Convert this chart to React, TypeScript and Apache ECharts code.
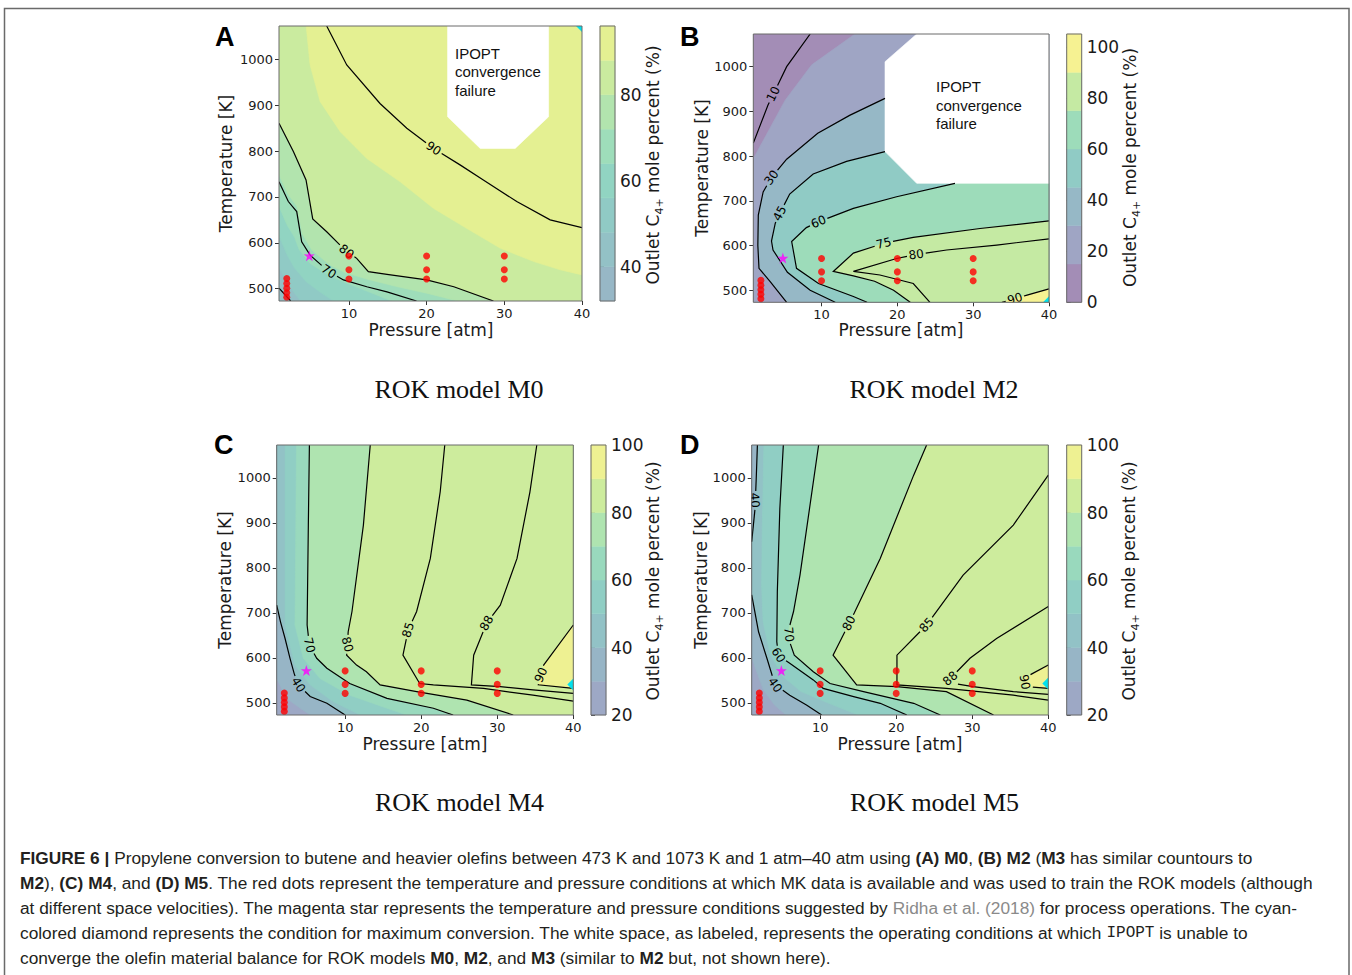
import React, { useEffect, useRef } from "react";
import * as echarts from "echarts";

// ---------------- shared axes / data ----------------
const pressureTicks = [10, 20, 30, 40];
const temperatureTicks = [500, 600, 700, 800, 900, 1000];
const pressureRange = [1, 40];
const temperatureRange = [473, 1073];

// MK training data (red dots) and suggested operating point (magenta star)
const mkColumnP = 2;
const mkColumnT = [481, 491, 501, 511, 522];
const mkGridP = [10, 20, 30];
const mkGridT = [521, 541, 571];
const suggestedPoint = [4.9, 572];

// ---------------- Panel A : ROK model M0 ----------------
const aLine90 = [[7.14, 1073], [9.72, 988], [14.0, 904], [17.45, 850], [20.9, 806], [24.3, 770], [27.3, 737], [31.6, 690], [35.9, 650], [40, 633]];
const aLine80 = [[1, 861], [2.85, 799], [4.48, 737], [5.34, 652], [7.14, 624], [9.7, 581], [11, 566], [12.5, 537], [14.9, 531], [20, 519], [23.5, 504], [28.6, 473]];
const aLine70 = [[1, 733], [2.2, 690], [3.28, 668], [3.92, 602], [5, 573], [7.4, 537], [9.3, 519], [12.3, 504], [14.9, 493], [18.7, 473]];
const aLine60 = [[1, 501], [2.5, 473]];
const aFillLevels = [40, 48, 56, 64, 72, 80, 88];
const aFillPolys = [
  [[1, 473], [40, 473], [40, 1073], [1, 1073]],
  [[1, 545], [2, 515], [3, 490], [3.8, 473], [40, 473], [40, 1073], [1, 1073]],
  [[1, 615], [2, 575], [3, 545], [4.5, 515], [6.5, 490], [8, 473], [40, 473], [40, 1073], [1, 1073]],
  [[1, 680], [2, 640], [3, 612], [3.6, 585], [5, 555], [7.5, 528], [10, 510], [13, 490], [15.5, 473], [40, 473], [40, 1073], [1, 1073]],
  [[1, 748], [2.2, 705], [3.3, 680], [4, 620], [5.2, 585], [7.5, 552], [9.5, 535], [12.5, 520], [16, 505], [20, 490], [24, 473], [40, 473], [40, 1073], [1, 1073]],
  [...aLine80, [40, 473], [40, 1073], [1, 1073]],
  [[4.5, 1073], [5, 988], [6.3, 908], [8.9, 842], [12.3, 784], [16.6, 733], [20.9, 675], [25.2, 631], [29.5, 588], [33.8, 559], [37.2, 541], [40, 530], [40, 1073]],
];
const aLineLevels = [90, 80, 70, 60];
const aLines = [aLine90, aLine80, aLine70, aLine60];
const aLabels = [[90, 20.9, 806], [80, 9.7, 581], [70, 7.4, 537]];
const aLabelAngles = [-34, -38, -33];
const aFailure = [[22.7, 1073], [22.7, 875], [26.9, 806], [31.4, 806], [35.7, 875], [35.7, 1073]];
const aCbarLevels = [32, 40, 48, 56, 64, 72, 80, 88, 96];
const aCbarTicks = [40, 60, 80];
const aMaxPoint = [40, 1073];

// ---------------- Panel B : ROK model M2 ----------------
const bLine10 = [[1, 829], [2.94, 914], [5.4, 1000], [8.5, 1073]];
const bLine30 = [[5.4, 473], [3.2, 520], [1.75, 549], [1.6, 600], [1.66, 668], [2.3, 720], [3.4, 752], [5.4, 793], [9.5, 851], [13.7, 891], [18.37, 929]];
const bLine45 = [[11.8, 473], [8.5, 500], [5.5, 540], [3.6, 590], [3.4, 610], [3.9, 650], [4.5, 672], [5.8, 715], [8.9, 760], [13.3, 788], [18.37, 810]];
const bLine60 = [[16, 473], [14.2, 486], [9.6, 515], [6.7, 549], [6.06, 609], [8, 640], [9.6, 653], [14.2, 683], [19.9, 709], [27.6, 739]];
const bLine75 = [[21.7, 473], [19.5, 500], [17, 520], [14.2, 532], [11.55, 542], [14.2, 583], [18.2, 605], [22.1, 618], [30.9, 638], [40, 655]];
const bLine80 = [[24.3, 473], [22.1, 515], [17.7, 534], [14.2, 542], [19.9, 571], [22.5, 580], [26.5, 590], [33.1, 601], [40, 615]];
const bLine90 = [[33.8, 473], [37.1, 489], [40, 503]];
const bFillLevels = [0, 15, 30, 45, 60, 75, 90];
const bFillPolys = [
  [[1, 473], [40, 473], [40, 1073], [1, 1073]],
  [[1, 473], [1, 794], [5.2, 925], [8.7, 1004], [14.4, 1073], [40, 1073], [40, 473]],
  [...bLine30, [20, 960], [24, 1073], [40, 1073], [40, 473]],
  [...bLine45, [22, 850], [40, 850], [40, 473]],
  [...bLine60, [30, 780], [40, 780], [40, 473]],
  [...bLine75, [40, 473]],
  [...bLine90, [40, 473]],
];
const bLineLevels = [10, 30, 45, 60, 75, 80, 90];
const bLines = [bLine10, bLine30, bLine45, bLine60, bLine75, bLine80, bLine90];
const bLabels = [[10, 3.64, 939], [30, 3.4, 752], [45, 4.5, 672], [60, 9.6, 653], [75, 18.2, 605], [80, 22.5, 580], [90, 35.5, 481]];
const bLabelAngles = [64, 54, 62, 22, 14, 8, 16];
const bFailure = [[18.37, 1011], [22.55, 1073], [40, 1073], [40, 739], [22.55, 739], [18.37, 810]];
const bCbarLevels = [0, 15, 30, 45, 60, 75, 90, 105];
const bCbarTicks = [0, 20, 40, 60, 80, 100];
const bMaxPoint = [40, 473];

// ---------------- Panel C : ROK model M4 ----------------
const cLine40 = [[1, 717], [1.5, 680], [2.1, 643], [2.75, 599], [3.3, 565], [3.85, 540], [5.4, 514], [7.6, 499], [10, 473]];
const cLine70 = [[5.3, 1073], [5.16, 895], [5.0, 673], [5.3, 628], [6.26, 599], [7.6, 577], [10.6, 543], [15.5, 510], [21.6, 488], [24.2, 473]];
const cLine80 = [[13.3, 1073], [12.4, 895], [10.9, 703], [10.4, 658], [10.2, 606], [11.5, 584], [12.8, 569], [14.6, 540], [19.4, 525], [26, 506], [32.1, 473]];
const cLine85 = [[23.1, 1073], [22.5, 969], [21.2, 821], [19.4, 703], [18.3, 662], [17.6, 606], [19.8, 543], [21.6, 540], [28.2, 532], [34.7, 517], [40, 504]];
const cLine88 = [[35.2, 1073], [34.3, 969], [32.6, 821], [30.4, 717], [28.6, 677], [26.9, 606], [26.6, 540], [30.4, 536], [34.7, 529], [40, 521]];
const cLine90 = [[40, 673], [36.1, 584], [35.4, 540], [40, 532]];
const cFillLevels = [20, 30, 40, 50, 60, 70, 80, 90];
const cFillPolys = [
  [[1, 473], [40, 473], [40, 1073], [1, 1073]],
  [[1, 554], [2.3, 510], [4.1, 488], [5.4, 473], [40, 473], [40, 1073], [1, 1073]],
  [...cLine40, [40, 473], [40, 1073], [1, 1073]],
  [[2.1, 1073], [2.1, 673], [3.4, 584], [5.4, 540], [8.4, 503], [12, 473], [40, 473], [40, 1073]],
  [[3.6, 1073], [3.4, 673], [4.5, 599], [6.7, 554], [10.6, 517], [15.5, 488], [18.1, 473], [40, 473], [40, 1073]],
  [...cLine70, [40, 473], [40, 1073]],
  [...cLine80, [40, 473], [40, 1073]],
  [...cLine90],
];
const cLineLevels = [40, 70, 80, 85, 88, 90];
const cLines = [cLine40, cLine70, cLine80, cLine85, cLine88, cLine90];
const cLabels = [[70, 5.3, 628], [40, 3.85, 540], [80, 10.3, 630], [85, 18.3, 662], [88, 28.6, 677], [90, 35.75, 562]];
const cLabelAngles = [-76, -60, -75, 73, 62, 65];
const cCbarLevels = [20, 30, 40, 50, 60, 70, 80, 90, 100];
const cCbarTicks = [20, 40, 60, 80, 100];
const cMaxPoint = [40, 541];

// ---------------- Panel D : ROK model M5 ----------------
const dLine40a = [[1, 858], [1.44, 932], [1.6, 1000], [1.75, 1073]];
const dLine40b = [[1, 740], [1.9, 658], [3.0, 599], [4.07, 540], [6.0, 517], [8.2, 495], [10.2, 473]];
const dLine60 = [[5.16, 1073], [4.7, 932], [4.37, 747], [4.3, 636], [4.5, 606], [6.0, 588], [9.1, 551], [10.4, 532], [14.4, 514], [17.9, 499], [21.4, 473]];
const dLine70 = [[9.8, 1073], [7.35, 784], [6.5, 703], [5.9, 665], [5.9, 640], [6.6, 606], [9.1, 569], [11.3, 543], [15.7, 525], [22.3, 499], [25.8, 473]];
const dLine80 = [[24, 1073], [22.3, 1006], [17.9, 821], [14.5, 700], [11.7, 606], [14.8, 540], [20.1, 536], [26.6, 525], [32.8, 473]];
const dLine85 = [[40, 1006], [35.4, 895], [28.8, 784], [24, 673], [20.1, 606], [20.1, 540], [26.6, 532], [35.4, 517], [40, 506]];
const dLine88 = [[40, 714], [33.2, 643], [29.7, 599], [27.1, 554], [27, 545], [30.1, 536], [35.4, 525], [40, 519]];
const dLine90 = [[40, 584], [36.7, 554], [37.2, 536], [40, 532]];
const dFillLevels = [20, 30, 40, 50, 60, 70, 80, 90];
const dFillPolys = [
  [[1, 473], [40, 473], [40, 1073], [1, 1073]],
  [[1, 600], [2.5, 530], [4, 495], [5.5, 473], [40, 473], [40, 1073], [1, 1073]],
  [...dLine40a, [40, 1073], [40, 473], ...[...dLine40b].reverse()],
  [[2.6, 1073], [2.4, 900], [2.3, 760], [2.5, 680], [3.4, 610], [5, 560], [7.5, 525], [11, 500], [15, 473], [40, 473], [40, 1073]],
  [...dLine60, [40, 473], [40, 1073]],
  [...dLine70, [40, 473], [40, 1073]],
  [...dLine80, [40, 473], [40, 1073]],
  [...dLine90],
];
const dLineLevels = [40, 40, 60, 70, 80, 85, 88, 90];
const dLines = [dLine40a, dLine40b, dLine60, dLine70, dLine80, dLine85, dLine88, dLine90];
const dLabels = [[40, 1.4, 950], [40, 4.07, 540], [60, 4.5, 606], [70, 5.9, 652], [80, 13.8, 677], [85, 24, 673], [88, 27.1, 554], [90, 36.9, 546]];
const dLabelAngles = [-86, -55, -58, -85, 63, 48, 40, -80];
const dCbarLevels = [20, 30, 40, 50, 60, 70, 80, 90, 100];
const dCbarTicks = [20, 40, 60, 80, 100];
const dMaxPoint = [40, 543];

// ---------------- caption ----------------
const captionLines: [string, string][][] = [
  [["b", "FIGURE 6 |"], ["n", " Propylene conversion to butene and heavier olefins between 473 K and 1073 K and 1 atm\u201340 atm using "], ["b", "(A) M0"], ["n", ", "], ["b", "(B) M2"], ["n", " ("], ["b", "M3"], ["n", " has similar countours to"]],
  [["b", "M2"], ["n", "), "], ["b", "(C) M4"], ["n", ", and "], ["b", "(D) M5"], ["n", ". The red dots represent the temperature and pressure conditions at which MK data is available and was used to train the ROK models (although"]],
  [["n", "at different space velocities). The magenta star represents the temperature and pressure conditions suggested by "], ["g", "Ridha et al. (2018)"], ["n", " for process operations. The cyan-"]],
  [["n", "colored diamond represents the condition for maximum conversion. The white space, as labeled, represents the operating conditions at which "], ["m", "IPOPT"], ["n", " is unable to"]],
  [["n", "converge the olefin material balance for ROK models "], ["b", "M0"], ["n", ", "], ["b", "M2"], ["n", ", and "], ["b", "M3"], ["n", " (similar to "], ["b", "M2"], ["n", " but, not shown here)."]],
];

// ---------------- helpers ----------------
const viridisStops = [
  [68, 1, 84], [72, 36, 117], [65, 68, 135], [53, 95, 141], [42, 120, 142], [33, 145, 140],
  [34, 168, 132], [68, 191, 112], [122, 209, 81], [189, 223, 38], [253, 231, 37],
];
function viridisPale(v: number): string {
  const t = Math.min(1, Math.max(0, v / 100)) * 10;
  const i = Math.min(9, Math.floor(t));
  const f = t - i;
  const a = viridisStops[i], b = viridisStops[i + 1];
  const m = [0, 1, 2].map((k) => Math.round((a[k] + (b[k] - a[k]) * f) * 0.5 + 255 * 0.5));
  return `rgb(${m[0]},${m[1]},${m[2]})`;
}

function cutPolyline(pts: number[][], centers: number[][], r: number): number[][][] {
  const pieces: number[][][] = [];
  let cur: number[][] = [];
  const inside = (p: number[]) => centers.some((c) => (p[0] - c[0]) ** 2 + (p[1] - c[1]) ** 2 < r * r);
  if (!inside(pts[0])) cur.push(pts[0]);
  for (let i = 0; i < pts.length - 1; i++) {
    const a = pts[i], b = pts[i + 1];
    const dx = b[0] - a[0], dy = b[1] - a[1];
    const P = (tt: number) => [a[0] + dx * tt, a[1] + dy * tt];
    const iv: number[][] = [];
    for (const c of centers) {
      const fx = a[0] - c[0], fy = a[1] - c[1];
      const A = dx * dx + dy * dy, B = 2 * (fx * dx + fy * dy), C = fx * fx + fy * fy - r * r;
      const disc = B * B - 4 * A * C;
      if (A === 0 || disc <= 0) continue;
      const s = Math.sqrt(disc);
      const t1 = (-B - s) / (2 * A), t2 = (-B + s) / (2 * A);
      if (t2 < 0 || t1 > 1) continue;
      iv.push([Math.max(0, t1), Math.min(1, t2)]);
    }
    iv.sort((x, y) => x[0] - y[0]);
    let t = 0;
    for (const [s, e] of iv) {
      if (s > t) {
        if (cur.length === 0) cur.push(P(t));
        cur.push(P(s));
      }
      if (cur.length >= 2) pieces.push(cur);
      cur = [];
      t = Math.max(t, e);
    }
    if (t < 1) {
      if (cur.length === 0) cur.push(P(t));
      cur.push(b);
    }
  }
  if (cur.length >= 2) pieces.push(cur);
  return pieces;
}

function clipToRect(pts: number[][], x0: number, y0: number, x1: number, y1: number) {
  const clipEdge = (inp: number[][], ins: (p: number[]) => boolean, inter: (a: number[], b: number[]) => number[]) => {
    const res: number[][] = [];
    for (let i = 0; i < inp.length; i++) {
      const cur = inp[i], prev = inp[(i + inp.length - 1) % inp.length];
      const ci = ins(cur), pi = ins(prev);
      if (ci) {
        if (!pi) res.push(inter(prev, cur));
        res.push(cur);
      } else if (pi) res.push(inter(prev, cur));
    }
    return res;
  };
  const ix = (a: number[], b: number[], x: number) => [x, a[1] + ((b[1] - a[1]) * (x - a[0])) / (b[0] - a[0])];
  const iy = (a: number[], b: number[], y: number) => [a[0] + ((b[0] - a[0]) * (y - a[1])) / (b[1] - a[1]), y];
  let out = pts;
  out = clipEdge(out, (p) => p[0] >= x0, (a, b) => ix(a, b, x0));
  out = clipEdge(out, (p) => p[0] <= x1, (a, b) => ix(a, b, x1));
  out = clipEdge(out, (p) => p[1] >= y0, (a, b) => iy(a, b, y0));
  out = clipEdge(out, (p) => p[1] <= y1, (a, b) => iy(a, b, y1));
  return out;
}

// ---------------- panels (layout in pixels) ----------------
const SANS = "DejaVu Sans";
const panels = [
  {
    fillLevels: aFillLevels, fillPolys: aFillPolys, step: 8, lines: aLines, lineLevels: aLineLevels,
    labels: aLabels, labelAngles: aLabelAngles, failure: aFailure, cbarLevels: aCbarLevels, cbarTicks: aCbarTicks, maxPoint: aMaxPoint,
    plot: [279, 26, 303, 275], cbar: [600, 26, 15, 275], letter: "A", letterPos: [215, 37],
    subtitle: "ROK model M0", subPos: [459, 389], tempPos: [226, 163.5], presPos: [431, 330], cbarTitlePos: [653, 165],
    failTextPos: [455, 53.3],
  },
  {
    fillLevels: bFillLevels, fillPolys: bFillPolys, step: 15, lines: bLines, lineLevels: bLineLevels,
    labels: bLabels, labelAngles: bLabelAngles, failure: bFailure, cbarLevels: bCbarLevels, cbarTicks: bCbarTicks, maxPoint: bMaxPoint,
    plot: [753.3, 34, 295.7, 268.3], cbar: [1066.7, 34, 15, 268.3], letter: "B", letterPos: [680, 37],
    subtitle: "ROK model M2", subPos: [934, 389], tempPos: [701.7, 168], presPos: [901, 330], cbarTitlePos: [1130, 167.5],
    failTextPos: [936, 86.7],
  },
  {
    fillLevels: cFillLevels, fillPolys: cFillPolys, step: 10, lines: cLines, lineLevels: cLineLevels,
    labels: cLabels, labelAngles: cLabelAngles, failure: null, cbarLevels: cCbarLevels, cbarTicks: cCbarTicks, maxPoint: cMaxPoint,
    plot: [276.7, 445, 296.6, 270], cbar: [591, 445, 15, 270], letter: "C", letterPos: [214, 445],
    subtitle: "ROK model M4", subPos: [459.5, 802], tempPos: [225, 580], presPos: [425, 744], cbarTitlePos: [653, 581],
    failTextPos: null,
  },
  {
    fillLevels: dFillLevels, fillPolys: dFillPolys, step: 10, lines: dLines, lineLevels: dLineLevels,
    labels: dLabels, labelAngles: dLabelAngles, failure: null, cbarLevels: dCbarLevels, cbarTicks: dCbarTicks, maxPoint: dMaxPoint,
    plot: [751.7, 445, 296.6, 270], cbar: [1066.7, 445, 15, 270], letter: "D", letterPos: [680, 445],
    subtitle: "ROK model M5", subPos: [934.5, 802], tempPos: [700.7, 580], presPos: [900, 744], cbarTitlePos: [1129, 581],
    failTextPos: null,
  },
];

function frameSeries(gi: number, datum: number[]) {
  return {
    type: "custom", xAxisIndex: gi, yAxisIndex: gi, z: 20, silent: true, clip: false,
    data: [datum],
    renderItem: (params: any) => {
      const cs = params.coordSys;
      return { type: "rect", shape: { x: cs.x, y: cs.y, width: cs.width, height: cs.height }, style: { fill: "none", stroke: "#6b6b6b", lineWidth: 1 } };
    },
  };
}

const plainNumber = (v: number) => String(v);

function buildOption() {
  const grid: any[] = [], xAxis: any[] = [], yAxis: any[] = [], series: any[] = [], graphic: any[] = [];
  const tickStyle = { show: true, inside: false, length: 4, lineStyle: { color: "#333", width: 1 } };
  panels.forEach((pn) => {
    // ---- plot grid ----
    const gi = grid.length;
    grid.push({ left: pn.plot[0], top: pn.plot[1], width: pn.plot[2], height: pn.plot[3], containLabel: false, outerBoundsMode: "none" });
    xAxis.push({
      type: "value", gridIndex: gi, min: pressureRange[0], max: pressureRange[1],
      axisLine: { show: false }, splitLine: { show: false },
      axisTick: { ...tickStyle, customValues: pressureTicks },
      axisLabel: { show: true, customValues: pressureTicks, formatter: plainNumber, fontSize: 13, fontFamily: SANS, color: "#1a1a1a", margin: 6 },
    });
    yAxis.push({
      type: "value", gridIndex: gi, min: temperatureRange[0], max: temperatureRange[1],
      axisLine: { show: false }, splitLine: { show: false },
      axisTick: { ...tickStyle, customValues: temperatureTicks },
      axisLabel: { show: true, customValues: temperatureTicks, formatter: plainNumber, fontSize: 13, fontFamily: SANS, color: "#1a1a1a", margin: 6 },
    });
    // filled contour bands
    series.push({
      type: "custom", xAxisIndex: gi, yAxisIndex: gi, z: 1, silent: true, clip: true,
      data: pn.fillPolys.map((poly, k) => [poly[0][0], poly[0][1], k]),
      renderItem: (params: any, api: any) => {
        const k = api.value(2);
        const color = viridisPale(pn.fillLevels[k] + pn.step / 2);
        return { type: "polygon", shape: { points: pn.fillPolys[k].map((p) => api.coord(p)) }, style: { fill: color, stroke: color, lineWidth: 0.6 } };
      },
    });
    // IPOPT failure region
    if (pn.failure) {
      const fail = pn.failure;
      series.push({
        type: "custom", xAxisIndex: gi, yAxisIndex: gi, z: 2, silent: true, clip: true,
        data: [[fail[0][0], fail[0][1]]],
        renderItem: (params: any, api: any) => ({
          type: "polygon", shape: { points: fail.map((p) => api.coord(p)) }, style: { fill: "#ffffff", stroke: "#ffffff", lineWidth: 0.6 },
        }),
      });
    }
    // contour lines with gaps at labels
    series.push({
      type: "custom", xAxisIndex: gi, yAxisIndex: gi, z: 3, silent: true, clip: true,
      data: pn.lines.map((ln, k) => [ln[0][0], ln[0][1], k]),
      renderItem: (params: any, api: any) => {
        const k = api.value(2);
        const px = pn.lines[k].map((p) => api.coord(p));
        const centers = pn.labels.filter((l) => l[0] === pn.lineLevels[k]).map((l) => api.coord([l[1], l[2]]));
        const pieces = cutPolyline(px, centers, 9.5);
        return {
          type: "group",
          children: pieces.map((pc) => ({ type: "polyline", shape: { points: pc }, style: { fill: "none", stroke: "#000", lineWidth: 1.2 } })),
        };
      },
    });
    // contour labels
    series.push({
      type: "custom", xAxisIndex: gi, yAxisIndex: gi, z: 4, silent: true, clip: true,
      data: pn.labels.map((l, k) => [l[1], l[2], k]),
      renderItem: (params: any, api: any) => {
        const k = api.value(2);
        const l = pn.labels[k];
        const c = api.coord([l[1], l[2]]);
        return {
          type: "text", x: c[0], y: c[1], rotation: (pn.labelAngles[k] * Math.PI) / 180,
          style: { text: String(l[0]), fontSize: 12, fontFamily: SANS, fill: "#000", align: "center", verticalAlign: "middle", textAlign: "center", textVerticalAlign: "middle" },
        };
      },
    });
    // MK data points
    const dots: number[][] = [];
    mkColumnT.forEach((t) => dots.push([mkColumnP, t]));
    mkGridP.forEach((p) => mkGridT.forEach((t) => dots.push([p, t])));
    series.push({ type: "scatter", xAxisIndex: gi, yAxisIndex: gi, z: 5, silent: true, symbol: "circle", symbolSize: 7, itemStyle: { color: "#ff0000" }, data: dots });
    // suggested point
    series.push({
      type: "scatter", xAxisIndex: gi, yAxisIndex: gi, z: 6, silent: true,
      symbol: "path://M50,0 L61.8,35.1 L97.6,34.5 L69.1,56.9 L79.4,90.5 L50,70 L20.6,90.5 L30.9,56.9 L2.4,34.5 L38.2,35.1 Z",
      symbolSize: 11, itemStyle: { color: "#ff00ff" }, data: [suggestedPoint],
    });
    // maximum conversion diamond (clipped to plot)
    series.push({
      type: "custom", xAxisIndex: gi, yAxisIndex: gi, z: 6, silent: true, clip: false,
      data: [pn.maxPoint],
      renderItem: (params: any, api: any) => {
        const c = api.coord([api.value(0), api.value(1)]);
        const s = 6;
        const cs = params.coordSys;
        const pts = clipToRect([[c[0], c[1] - s], [c[0] + s, c[1]], [c[0], c[1] + s], [c[0] - s, c[1]]], cs.x, cs.y, cs.x + cs.width, cs.y + cs.height);
        if (pts.length < 3) return null;
        return { type: "polygon", shape: { points: pts }, style: { fill: "#00e1ee" } };
      },
    });
    series.push(frameSeries(gi, [20, 700]));

    // ---- colorbar grid ----
    const ci = grid.length;
    const lv = pn.cbarLevels;
    grid.push({ left: pn.cbar[0], top: pn.cbar[1], width: pn.cbar[2], height: pn.cbar[3], containLabel: false, outerBoundsMode: "none" });
    xAxis.push({ type: "value", gridIndex: ci, min: 0, max: 1, show: false });
    yAxis.push({
      type: "value", gridIndex: ci, position: "right", min: lv[0], max: lv[lv.length - 1],
      axisLine: { show: false }, splitLine: { show: false },
      axisTick: { ...tickStyle, customValues: pn.cbarTicks },
      axisLabel: { show: true, customValues: pn.cbarTicks, formatter: plainNumber, fontSize: 17, fontFamily: SANS, color: "#1a1a1a", margin: 5 },
    });
    series.push({
      type: "custom", xAxisIndex: ci, yAxisIndex: ci, z: 1, silent: true,
      data: lv.slice(0, -1).map((lo, k) => [0.5, (lo + lv[k + 1]) / 2, k]),
      renderItem: (params: any, api: any) => {
        const k = api.value(2);
        const p0 = api.coord([0, lv[k]]);
        const p1 = api.coord([1, lv[k + 1]]);
        const color = viridisPale((lv[k] + lv[k + 1]) / 2);
        return { type: "rect", shape: { x: p0[0], y: p1[1], width: p1[0] - p0[0], height: p0[1] - p1[1] }, style: { fill: color, stroke: color, lineWidth: 0.5 } };
      },
    });
    series.push(frameSeries(ci, [0.5, (lv[0] + lv[lv.length - 1]) / 2]));

    // ---- texts ----
    graphic.push({
      type: "text", x: pn.letterPos[0], y: pn.letterPos[1],
      style: { text: pn.letter, fontSize: 27, fontWeight: "bold", fontFamily: "Liberation Sans", fill: "#000", align: "left", verticalAlign: "middle", textAlign: "left", textVerticalAlign: "middle" },
    });
    graphic.push({
      type: "text", x: pn.subPos[0], y: pn.subPos[1],
      style: { text: pn.subtitle, fontSize: 26, fontFamily: "Liberation Serif", fill: "#111", align: "center", verticalAlign: "middle", textAlign: "center", textVerticalAlign: "middle" },
    });
    graphic.push({
      type: "text", x: pn.tempPos[0], y: pn.tempPos[1], rotation: Math.PI / 2,
      style: { text: "Temperature [K]", fontSize: 17, fontFamily: SANS, fill: "#1a1a1a", align: "center", verticalAlign: "middle", textAlign: "center", textVerticalAlign: "middle" },
    });
    graphic.push({
      type: "text", x: pn.presPos[0], y: pn.presPos[1],
      style: { text: "Pressure [atm]", fontSize: 17, fontFamily: SANS, fill: "#1a1a1a", align: "center", verticalAlign: "middle", textAlign: "center", textVerticalAlign: "middle" },
    });
    graphic.push({
      type: "text", x: pn.cbarTitlePos[0], y: pn.cbarTitlePos[1], rotation: Math.PI / 2,
      style: {
        text: "{n|Outlet C}{s|4+}{n| mole percent (%)}", align: "center", verticalAlign: "middle", textAlign: "center", textVerticalAlign: "middle",
        rich: {
          n: { fontSize: 17, fontFamily: SANS, fill: "#1a1a1a", lineHeight: 24 },
          s: { fontSize: 11, fontFamily: SANS, fill: "#1a1a1a", lineHeight: 14, verticalAlign: "bottom" },
        },
      },
    });
    if (pn.failTextPos) {
      ["IPOPT", "convergence", "failure"].forEach((w, k) => {
        graphic.push({
          type: "text", x: pn.failTextPos![0], y: pn.failTextPos![1] + k * 18.4, z: 30,
          style: { text: w, fontSize: 15, fontFamily: "Liberation Sans", fill: "#111", align: "left", verticalAlign: "middle", textAlign: "left", textVerticalAlign: "middle" },
        });
      });
    }
  });

  // figure frame
  graphic.push({ type: "rect", shape: { x: 4.5, y: 8.5, width: 1344.5, height: 990 }, style: { fill: "none", stroke: "#6a6a6a", lineWidth: 1.5 }, z: -1 });

  // caption
  const fs = 17.3;
  const rich = {
    n: { fontSize: fs, fontFamily: "Liberation Sans", fill: "#231f20" },
    b: { fontSize: fs, fontFamily: "Liberation Sans", fontWeight: "bold", fill: "#231f20" },
    g: { fontSize: fs, fontFamily: "Liberation Sans", fill: "#8a8a8a" },
    m: { fontSize: 16, fontFamily: "Liberation Mono", fill: "#231f20" },
  };
  captionLines.forEach((segs, k) => {
    graphic.push({
      type: "text", x: 20, y: 858 + k * 25,
      style: {
        text: segs.map(([s, t]) => `{${s}|${t}}`).join(""), rich,
        align: "left", verticalAlign: "middle", textAlign: "left", textVerticalAlign: "middle",
      },
    });
  });

  return { backgroundColor: "#ffffff", animation: false, grid, xAxis, yAxis, series, graphic };
}

export default function App() {
  const ref = useRef<HTMLDivElement>(null);
  useEffect(() => {
    const chart = echarts.init(ref.current!, null, { renderer: "svg" });
    chart.setOption(buildOption() as any);
    return () => chart.dispose();
  }, []);
  return <div ref={ref} style={{ position: "absolute", left: 0, top: 0, width: 1352, height: 975 }} />;
}
